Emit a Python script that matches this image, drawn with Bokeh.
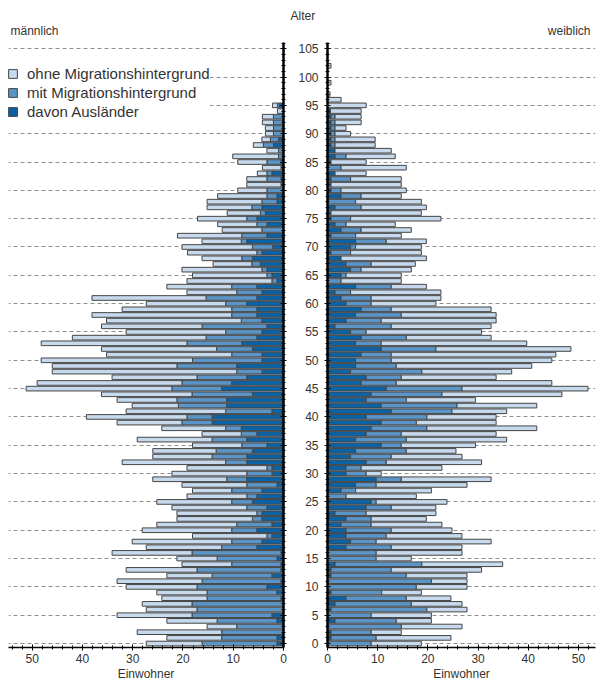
import numpy as np
from bokeh.plotting import figure
from bokeh.models import (Range1d, SingleIntervalTicker, Title, Legend, LegendItem,
                          ColumnDataSource)
from bokeh.layouts import row
from bokeh.embed import file_html
from bokeh.resources import INLINE

ages = list(range(106))

# männlich: total (ohne + mit), mit Migrationshintergrund, davon Ausländer
male_total = [27.3, 23.2, 29.1, 15.2, 23.2, 33.1, 27.3, 28.1, 24.2, 25.2,
              31.3, 33.1, 23.2, 31.3, 20.2, 21.2, 34.1, 27.3, 30.1, 18.1,
              28.1, 25.2, 21.2, 21.2, 22.2, 25.2, 19.2, 18.1, 20.2, 26.0,
              22.2, 19.2, 32.1, 26.0, 26.0, 18.1, 29.1, 16.2, 24.2, 33.1,
              39.2, 31.3, 30.1, 33.1, 36.2, 51.2, 49.0, 34.1, 46.0, 46.0,
              48.2, 35.2, 36.2, 48.2, 42.0, 31.3, 36.2, 35.2, 38.1, 32.1,
              27.3, 38.1, 19.2, 23.2, 19.2, 18.1, 20.2, 14.0, 16.2, 19.1,
              20.2, 16.2, 21.1, 12.2, 13.1, 17.1, 11.2, 15.2, 15.2, 13.1,
              9.1, 7.3, 7.3, 5.2, 4.2, 9.1, 10.1, 3.3, 6.0, 4.3,
              3.6, 3.6, 4.2, 4.2, 1.2, 2.2, 0, 0, 0, 0,
              0, 0, 0, 0, 0, 0]
male_mit = [16.2, 12.3, 12.3, 9.3, 13.2, 18.2, 17.2, 18.2, 15.2, 15.2,
            17.2, 16.2, 14.2, 17.2, 10.3, 13.2, 18.2, 12.3, 10.3, 3.3,
            10.3, 9.3, 6.2, 5.3, 7.3, 10.3, 7.3, 10.3, 7.3, 11.3,
            7.3, 3.3, 11.5, 14.2, 13.4, 8.3, 14.2, 8.4, 11.5, 20.2,
            19.2, 11.5, 20.9, 21.2, 18.2, 22.2, 20.2, 17.2, 9.3, 21.2,
            18.1, 10.3, 13.3, 19.2, 15.4, 11.5, 16.2, 8.4, 10.3, 10.3,
            11.5, 15.4, 9.3, 10.3, 2.3, 3.3, 4.3, 6.3, 8.3, 5.3,
            6.2, 8.4, 8.3, 4.3, 5.3, 7.3, 4.6, 6.3, 4.3, 3.3,
            3.3, 0.5, 3.3, 3.3, 0.5, 3.3, 1.0, 1.0, 4.0, 2.6,
            2.0, 2.0, 2.0, 2.0, 0, 1.2, 0, 0, 0, 0,
            0, 0, 0, 0, 0, 0]
male_ausl = [1.3, 1.3, 0, 0, 1.3, 2.3, 0, 0, 0.5, 1.3,
             3.3, 0.5, 2.3, 0.5, 0.5, 1.3, 0.5, 5.3, 4.3, 2.3,
             5.3, 2.3, 4.3, 4.3, 3.3, 6.2, 5.3, 4.3, 1.3, 7.3,
             2.3, 2.3, 7.3, 7.3, 6.2, 3.3, 7.3, 5.3, 8.4, 14.2,
             14.2, 2.3, 11.3, 11.3, 6.2, 12.3, 10.3, 7.3, 4.3, 9.3,
             4.3, 4.3, 6.2, 8.3, 5.3, 4.3, 3.3, 4.3, 5.3, 5.3,
             7.3, 5.3, 4.3, 5.3, 1.3, 2.3, 3.3, 4.6, 6.2, 4.3,
             2.2, 7.3, 3.3, 0, 3.3, 5.3, 3.6, 4.3, 1.3, 1.3,
             0, 0, 0.5, 2.3, 0, 0.5, 0, 0, 2.0, 1.0,
             0, 0, 0, 0, 0, 0.8, 0, 0, 0, 0,
             0, 0, 0, 0, 0, 0]

# weiblich
female_total = [18.7, 24.6, 14.7, 26.8, 20.7, 20.7, 27.8, 26.8, 24.6, 18.7,
                27.8, 27.8, 27.8, 30.7, 34.9, 16.7, 26.8, 26.8, 32.6, 26.8,
                24.8, 22.8, 19.7, 21.6, 21.6, 23.8, 17.7, 20.7, 27.8, 32.6,
                10.7, 22.8, 30.7, 26.8, 25.6, 29.5, 35.7, 33.6, 41.7, 33.6,
                33.6, 35.7, 41.7, 29.5, 46.7, 51.9, 44.7, 33.6, 36.7, 40.7,
                44.7, 45.5, 48.5, 39.7, 32.6, 30.7, 32.6, 33.6, 33.6, 32.6,
                21.6, 22.6, 22.6, 19.7, 14.7, 14.7, 16.7, 17.5, 19.7, 18.7,
                18.7, 19.7, 14.7, 16.7, 13.5, 22.6, 18.7, 19.7, 18.7, 14.7,
                15.7, 14.7, 14.7, 7.7, 15.7, 7.7, 13.5, 12.7, 9.5, 9.5,
                4.6, 3.7, 6.7, 6.7, 6.7, 7.7, 2.7, 0.5, 0, 0.7,
                0, 0, 0.7, 0, 0, 0]
female_mit = [8.7, 9.7, 8.7, 14.7, 13.7, 8.7, 19.8, 16.7, 15.7, 10.8,
              17.7, 20.7, 15.7, 12.7, 18.8, 9.7, 9.7, 12.7, 9.7, 11.7,
              12.7, 8.7, 8.7, 7.7, 12.7, 9.7, 3.7, 5.6, 9.7, 14.7,
              7.7, 6.7, 11.7, 12.7, 15.7, 14.7, 15.7, 14.7, 19.8, 17.7,
              19.8, 24.8, 25.8, 15.7, 22.8, 26.8, 13.7, 14.7, 18.8, 13.7,
              12.7, 12.7, 21.6, 10.7, 15.7, 7.7, 12.7, 10.7, 14.7, 12.7,
              8.7, 8.7, 4.6, 12.7, 2.7, 3.7, 6.7, 8.7, 2.7, 4.6,
              5.6, 11.7, 5.6, 6.7, 3.7, 4.6, 0.7, 6.7, 5.6, 6.7,
              2.7, 0.7, 4.6, 1.5, 2.7, 0.7, 3.7, 1.5, 1.5, 1.5,
              1.5, 1.5, 1.5, 1.5, 0.6, 0, 0, 0, 0, 0,
              0, 0, 0, 0, 0, 0]
female_ausl = [0, 0.7, 0.7, 0, 1.5, 0, 0.7, 1.5, 3.7, 0.7,
               0, 0, 0.7, 0.7, 1.5, 0, 0, 3.7, 4.6, 3.7,
               3.7, 2.7, 3.7, 1.5, 7.7, 8.7, 0, 2.7, 5.6, 9.7,
               3.7, 3.7, 7.7, 4.6, 5.6, 10.7, 5.6, 7.7, 8.7, 10.7,
               7.7, 12.7, 10.7, 7.7, 8.7, 11.7, 6.7, 7.7, 4.6, 5.6,
               5.6, 6.7, 10.7, 5.6, 6.7, 4.6, 1.5, 3.7, 5.6, 6.7,
               3.7, 2.7, 1.5, 5.6, 0, 2.7, 4.6, 3.7, 2.7, 0.7,
               4.6, 5.6, 0.7, 2.7, 1.5, 0.7, 0.7, 1.5, 0, 2.7,
               0.7, 0.7, 0.7, 1.5, 0, 0.5, 1.5, 1.5, 0.7, 0.7,
               0.7, 0.7, 0.7, 0.7, 0.5, 0, 0, 0, 0, 0,
               0, 0, 0, 0, 0, 0]

series_labels = ["ohne Migrationshintergrund", "mit Migrationshintergrund", "davon Ausländer"]
age_ticks_interval = 5

LIGHT = "#c7d9ec"
MED = "#5b94c6"
DARK = "#0b63a6"
OUTLINE = "#454545"
FONT = "Liberation Sans"
TXT = "#333333"

FRAME_H = 605
TOP = 42
Y_RANGE = (-0.7, 106.1)


def draw_side(fig, total, mit, ausl):
    y = np.array(ages, dtype=float)
    t = np.array(total, dtype=float)
    m = np.array(mit, dtype=float)
    a = np.array(ausl, dtype=float)
    rs = []
    for lo, hi, col in ((np.zeros_like(a), a, DARK), (a, m, MED), (m, t, LIGHT)):
        mask = hi > lo
        src = ColumnDataSource(dict(y=y[mask], left=lo[mask], right=hi[mask]))
        r = fig.hbar(y="y", left="left", right="right", height=0.82, source=src,
                     fill_color=col, line_color=OUTLINE, line_width=1)
        rs.append(r)
    return rs


def style(fig, show_labels):
    xa = fig.xaxis[0]
    xa.axis_label = "Einwohner"
    xa.axis_label_text_font = FONT
    xa.axis_label_text_font_size = "12px"
    xa.axis_label_text_font_style = "normal"
    xa.axis_label_text_color = TXT
    xa.axis_label_standoff = 1
    xa.ticker = SingleIntervalTicker(interval=10, num_minor_ticks=5)
    xa.major_label_text_font = FONT
    xa.major_label_text_font_size = "12px"
    xa.major_label_text_color = TXT
    xa.major_label_standoff = 3
    xa.axis_line_color = "black"
    xa.axis_line_width = 1.5
    xa.major_tick_line_color = "black"
    xa.minor_tick_line_color = "black"
    xa.major_tick_in = 3
    xa.major_tick_out = 3
    xa.minor_tick_in = 2
    xa.minor_tick_out = 2

    ya = fig.yaxis[0]
    ya.ticker = SingleIntervalTicker(interval=age_ticks_interval, num_minor_ticks=5)
    ya.axis_line_color = "black"
    ya.axis_line_width = 2.5
    ya.major_tick_line_color = "black"
    ya.minor_tick_line_color = "black"
    ya.major_tick_in = 3
    ya.major_tick_out = 3
    ya.minor_tick_in = 2
    ya.minor_tick_out = 2
    ya.major_label_text_font = FONT
    ya.major_label_text_color = TXT
    ya.major_label_text_font_size = "12px"
    if show_labels:
        ya.major_label_standoff = 6
    else:
        ya.major_label_standoff = 0
        ya.major_label_overrides = {a: "" for a in ages if a % age_ticks_interval == 0}

    fig.xgrid.visible = False
    fig.ygrid.ticker = SingleIntervalTicker(interval=age_ticks_interval)
    fig.ygrid.grid_line_color = "#8f8f8f"
    fig.ygrid.grid_line_dash = "4 3"
    fig.ygrid.grid_line_width = 1
    fig.outline_line_color = None
    fig.background_fill_color = "white"


def mk_title(text, align, offset=0, standoff=6):
    return Title(text=text, align=align, offset=offset, standoff=standoff,
                 text_font=FONT, text_font_size="12px", text_font_style="normal",
                 text_color=TXT)


# left (männlich)
p1 = figure(frame_width=275, frame_height=FRAME_H,
            x_range=Range1d(54.7, 0), y_range=Range1d(*Y_RANGE),
            output_backend="svg", toolbar_location=None, y_axis_location="right",
            min_border_left=8, min_border_right=4, min_border_top=TOP, min_border_bottom=0)
style(p1, show_labels=False)
r_dark, r_med, r_light = draw_side(p1, male_total, male_mit, male_ausl)
p1.add_layout(mk_title("männlich", "left", 2, 10), "above")

legend = Legend(items=[LegendItem(label=series_labels[0], renderers=[r_light]),
                       LegendItem(label=series_labels[1], renderers=[r_med]),
                       LegendItem(label=series_labels[2], renderers=[r_dark])],
                location=(-1, FRAME_H - 16 - 62),
                label_text_font=FONT, label_text_font_size="15px", label_text_color=TXT,
                glyph_width=11, glyph_height=11, label_standoff=9, label_height=16,
                spacing=2, padding=2, margin=0,
                background_fill_color="white", background_fill_alpha=1.0,
                border_line_color=None)
p1.add_layout(legend)

# right (weiblich)
p2 = figure(frame_width=268, frame_height=FRAME_H,
            x_range=Range1d(0, 53.4), y_range=Range1d(*Y_RANGE),
            output_backend="svg", toolbar_location=None,
            min_border_left=40, min_border_right=1, min_border_top=TOP, min_border_bottom=0)
style(p2, show_labels=True)
draw_side(p2, female_total, female_mit, female_ausl)
p2.add_layout(mk_title("weiblich", "right", 5, 10), "above")
p2.add_layout(mk_title("Alter", "left", -37, -12), "above")

layout = row(p1, p2)
open("out.html", "w").write(file_html(layout, INLINE))
